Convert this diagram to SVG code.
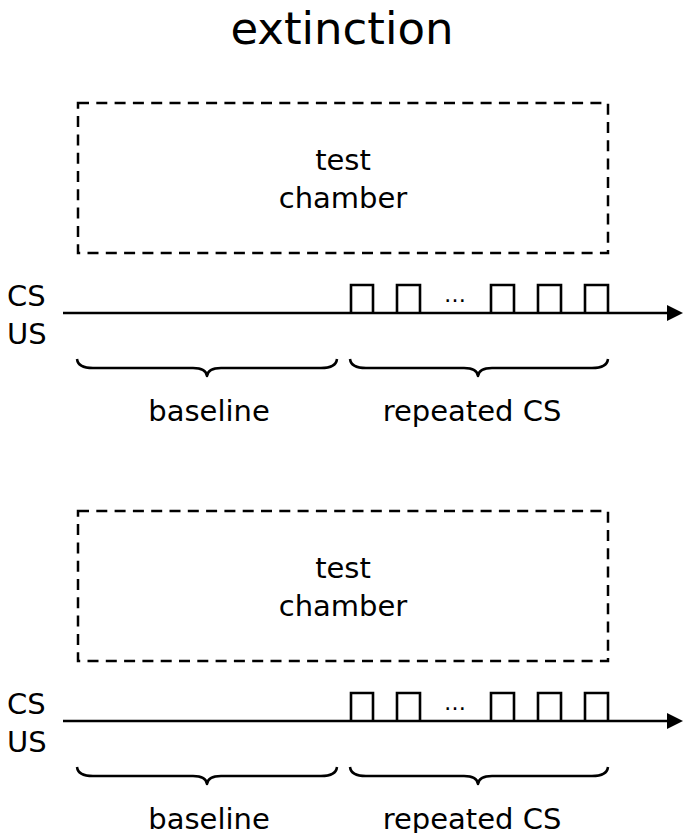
<svg xmlns="http://www.w3.org/2000/svg" width="687" height="833" viewBox="0 0 687 833">
  <style>
    text { font-family: "DejaVu Sans", Verdana, sans-serif; fill: #000; }
    .lbl { font-size: 29px; }
    .mid { text-anchor: middle; }
    .chamber { fill: none; stroke: #000; stroke-width: 2.5; stroke-dasharray: 11 7.3; }
    .line { fill: none; stroke: #000; stroke-width: 2.6; }
    .brace { fill: none; stroke: #000; stroke-width: 2.5; stroke-linejoin: round; }
  </style>
  <defs>
    <marker id="arrow" markerWidth="16" markerHeight="16" refX="0" refY="8" orient="auto" markerUnits="userSpaceOnUse">
      <path d="M0,0 L16,8 L0,16 Z" fill="#000"/>
    </marker>
    <!-- one timeline panel: chamber, CS/US axis, pulses, braces, labels -->
    <g id="panel">
      <rect class="chamber" x="78" y="103" width="530" height="150"/>
      <text class="lbl mid" x="343" y="170">test</text>
      <text class="lbl mid" x="343" y="208">chamber</text>
      <text class="lbl" x="7" y="306">CS</text>
      <text class="lbl" x="7" y="344">US</text>
      <line class="line" x1="63" y1="313" x2="667" y2="313" marker-end="url(#arrow)"/>
      <path class="line" d="M351,313 V285 H373 V313 M397,313 V285 H420 V313 M491,313 V285 H514 V313 M538,313 V285 H561 V313 M585,313 V285 H608 V313"/>
      <text x="455" y="302" class="mid" style="font-size:22px">…</text>
      <path class="brace" d="M77,359 Q78,368 93,368 L193,368 Q206,368 207,376 Q208,368 221,368 L321,368 Q336,368 337,359"/>
      <path class="brace" d="M350,359 Q351,368 366,368 L464,368 Q477,368 478,376 Q479,368 492,368 L592,368 Q607,368 608,359"/>
      <text class="lbl mid" x="209" y="421">baseline</text>
      <text class="lbl mid" x="472" y="421">repeated CS</text>
    </g>
  </defs>
  <text class="mid" x="342" y="44" style="font-size:45px">extinction</text>
  <g id="panel-top">
    <use href="#panel"/>
  </g>
  <g id="panel-bottom" transform="translate(0,408)">
    <use href="#panel"/>
  </g>
</svg>
